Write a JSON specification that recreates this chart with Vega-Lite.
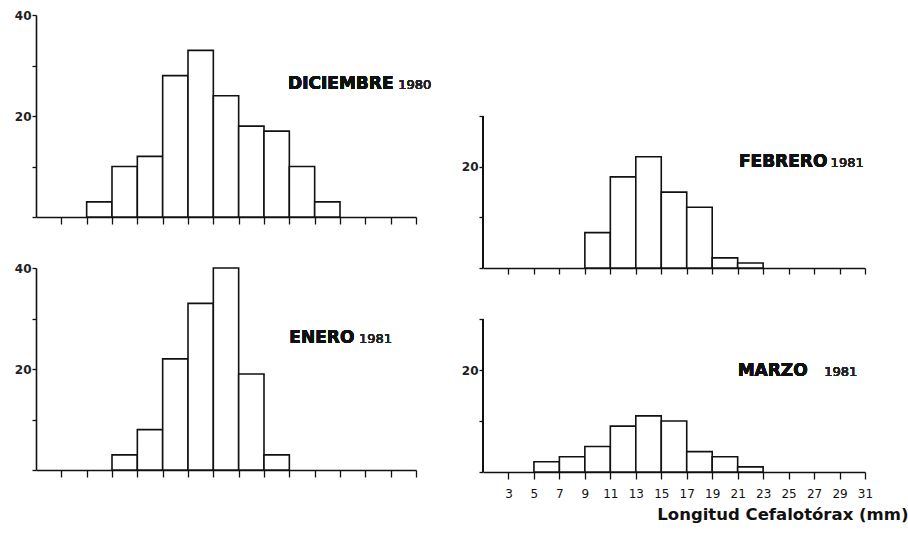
{
  "$schema": "https://vega.github.io/schema/vega-lite/v6.json",
  "background": "white",
  "padding": {"left": 14, "top": 9, "right": 0, "bottom": 0},
  "config": {
    "view": {"stroke": null},
    "axis": {
      "domainColor": "#111", "domainWidth": 1.6,
      "tickColor": "#111", "tickWidth": 1.3,
      "labelFont": "DejaVu Sans", "labelFontSize": 11, "labelFontWeight": "bold", "labelColor": "#222",
      "labelOverlap": false, "grid": false, "titleFont": "DejaVu Sans"
    }
  },
  "datasets": {
    "hist": [
      {"month": "DICIEMBRE", "lo": 5, "hi": 7, "n": 3},
      {"month": "DICIEMBRE", "lo": 7, "hi": 9, "n": 10},
      {"month": "DICIEMBRE", "lo": 9, "hi": 11, "n": 12},
      {"month": "DICIEMBRE", "lo": 11, "hi": 13, "n": 28},
      {"month": "DICIEMBRE", "lo": 13, "hi": 15, "n": 33},
      {"month": "DICIEMBRE", "lo": 15, "hi": 17, "n": 24},
      {"month": "DICIEMBRE", "lo": 17, "hi": 19, "n": 18},
      {"month": "DICIEMBRE", "lo": 19, "hi": 21, "n": 17},
      {"month": "DICIEMBRE", "lo": 21, "hi": 23, "n": 10},
      {"month": "DICIEMBRE", "lo": 23, "hi": 25, "n": 3},
      {"month": "ENERO", "lo": 7, "hi": 9, "n": 3},
      {"month": "ENERO", "lo": 9, "hi": 11, "n": 8},
      {"month": "ENERO", "lo": 11, "hi": 13, "n": 22},
      {"month": "ENERO", "lo": 13, "hi": 15, "n": 33},
      {"month": "ENERO", "lo": 15, "hi": 17, "n": 40},
      {"month": "ENERO", "lo": 17, "hi": 19, "n": 19},
      {"month": "ENERO", "lo": 19, "hi": 21, "n": 3},
      {"month": "FEBRERO", "lo": 9, "hi": 11, "n": 7},
      {"month": "FEBRERO", "lo": 11, "hi": 13, "n": 18},
      {"month": "FEBRERO", "lo": 13, "hi": 15, "n": 22},
      {"month": "FEBRERO", "lo": 15, "hi": 17, "n": 15},
      {"month": "FEBRERO", "lo": 17, "hi": 19, "n": 12},
      {"month": "FEBRERO", "lo": 19, "hi": 21, "n": 2},
      {"month": "FEBRERO", "lo": 21, "hi": 23, "n": 1},
      {"month": "MARZO", "lo": 5, "hi": 7, "n": 2},
      {"month": "MARZO", "lo": 7, "hi": 9, "n": 3},
      {"month": "MARZO", "lo": 9, "hi": 11, "n": 5},
      {"month": "MARZO", "lo": 11, "hi": 13, "n": 9},
      {"month": "MARZO", "lo": 13, "hi": 15, "n": 11},
      {"month": "MARZO", "lo": 15, "hi": 17, "n": 10},
      {"month": "MARZO", "lo": 17, "hi": 19, "n": 4},
      {"month": "MARZO", "lo": 19, "hi": 21, "n": 3},
      {"month": "MARZO", "lo": 21, "hi": 23, "n": 1}
    ]
  },
  "bounds": "flush",
  "columns": 2,
  "spacing": {"row": 0, "column": 67},
  "concat": [
    {
      "width": 380, "height": 202,
      "data": {"name": "hist"},
      "transform": [{"filter": "datum.month === 'DICIEMBRE'"}],
      "layer": [
        {
          "mark": {"type": "rect", "fill": "white", "stroke": "#111", "strokeWidth": 1.6},
          "encoding": {
            "x": {"field": "lo", "type": "quantitative", "scale": {"domain": [1, 31], "nice": false, "zero": false},
                  "axis": {"title": null, "values": [3,5,7,9,11,13,15,17,19,21,23,25,27,29,31], "tickCount": 30, "labels": false, "tickSize": 7}},
            "x2": {"field": "hi"},
            "y": {"field": "n", "type": "quantitative", "scale": {"domain": [0, 40], "nice": false},
                  "axis": {"title": null, "values": [0,10,20,30,40], "tickSize": 4, "labelPadding": 1, "labelFontSize": 12,
                           "labelExpr": "datum.value == 20 || datum.value == 40 ? datum.label : ''"}},
            "y2": {"datum": 0}
          }
        },
        {
          "mark": {"type": "text", "font": "DejaVu Sans", "fontWeight": "bold", "fontSize": 17, "align": "left", "baseline": "alphabetic", "color": "#111"},
          "encoding": {"x": {"datum": 20.9}, "y": {"datum": 25.3}, "text": {"value": "DICIEMBRE"}}
        },
        {
          "mark": {"type": "text", "font": "DejaVu Sans", "fontSize": 13, "align": "left", "baseline": "alphabetic", "color": "#222"},
          "encoding": {"x": {"datum": 29.6}, "y": {"datum": 25.3}, "text": {"value": "1980"}}
        }
      ]
    },
    {
      "width": 382, "height": 253,
      "data": {"name": "hist"},
      "transform": [{"filter": "datum.month === 'FEBRERO'"}],
      "layer": [
        {
          "mark": {"type": "rect", "fill": "white", "stroke": "#111", "strokeWidth": 1.6},
          "encoding": {
            "x": {"field": "lo", "type": "quantitative", "scale": {"domain": [1, 31], "nice": false, "zero": false},
                  "axis": {"title": null, "values": [3,5,7,9,11,13,15,17,19,21,23,25,27,29,31], "tickCount": 30, "labels": false, "tickSize": 6}},
            "x2": {"field": "hi"},
            "y": {"field": "n", "type": "quantitative", "scale": {"domain": [0, 50], "nice": false},
                  "axis": {"title": null, "domain": false, "values": [0,10,20,30], "tickSize": 4, "labelPadding": 1, "labelFontSize": 12,
                           "labelExpr": "datum.value == 20 ? datum.label : ''"}},
            "y2": {"datum": 0}
          }
        },
        {
          "mark": {"type": "rule", "stroke": "#111", "strokeWidth": 1.6},
          "encoding": {"x": {"datum": 1}, "y": {"datum": 0}, "y2": {"datum": 30}}
        },
        {
          "mark": {"type": "text", "font": "DejaVu Sans", "fontWeight": "bold", "fontSize": 17, "align": "left", "baseline": "alphabetic", "color": "#111"},
          "encoding": {"x": {"datum": 21.1}, "y": {"datum": 20.0}, "text": {"value": "FEBRERO"}}
        },
        {
          "mark": {"type": "text", "font": "DejaVu Sans", "fontSize": 13, "align": "left", "baseline": "alphabetic", "color": "#222"},
          "encoding": {"x": {"datum": 28.3}, "y": {"datum": 20.0}, "text": {"value": "1981"}}
        }
      ]
    },
    {
      "width": 380, "height": 202,
      "data": {"name": "hist"},
      "transform": [{"filter": "datum.month === 'ENERO'"}],
      "layer": [
        {
          "mark": {"type": "rect", "fill": "white", "stroke": "#111", "strokeWidth": 1.6},
          "encoding": {
            "x": {"field": "lo", "type": "quantitative", "scale": {"domain": [1, 31], "nice": false, "zero": false},
                  "axis": {"title": null, "values": [3,5,7,9,11,13,15,17,19,21,23,25,27,29,31], "tickCount": 30, "labels": false, "tickSize": 7}},
            "x2": {"field": "hi"},
            "y": {"field": "n", "type": "quantitative", "scale": {"domain": [0, 40], "nice": false},
                  "axis": {"title": null, "values": [0,10,20,30,40], "tickSize": 4, "labelPadding": 1, "labelFontSize": 12,
                           "labelExpr": "datum.value == 20 || datum.value == 40 ? datum.label : ''"}},
            "y2": {"datum": 0}
          }
        },
        {
          "mark": {"type": "text", "font": "DejaVu Sans", "fontWeight": "bold", "fontSize": 17, "align": "left", "baseline": "alphabetic", "color": "#111"},
          "encoding": {"x": {"datum": 21.0}, "y": {"datum": 25.1}, "text": {"value": "ENERO"}}
        },
        {
          "mark": {"type": "text", "font": "DejaVu Sans", "fontSize": 13, "align": "left", "baseline": "alphabetic", "color": "#222"},
          "encoding": {"x": {"datum": 26.5}, "y": {"datum": 25.1}, "text": {"value": "1981"}}
        }
      ]
    },
    {
      "width": 382, "height": 204,
      "data": {"name": "hist"},
      "transform": [{"filter": "datum.month === 'MARZO'"}],
      "layer": [
        {
          "mark": {"type": "rect", "fill": "white", "stroke": "#111", "strokeWidth": 1.6},
          "encoding": {
            "x": {"field": "lo", "type": "quantitative", "scale": {"domain": [1, 31], "nice": false, "zero": false},
                  "axis": {"title": "Longitud Cefalotórax (mm)", "values": [3,5,7,9,11,13,15,17,19,21,23,25,27,29,31], "tickCount": 30, "tickSize": 7,
                           "labelOverlap": false, "labelFlush": false,
                           "labelFontSize": 12, "labelFontWeight": "normal", "labelColor": "#111", "labelPadding": 9,
                           "titleFontSize": 16.5, "titleFontWeight": "bold", "titleColor": "#111",
                           "titleAnchor": "end", "titleAlign": "right", "titleX": 425, "titlePadding": 7}},
            "x2": {"field": "hi"},
            "y": {"field": "n", "type": "quantitative", "scale": {"domain": [0, 40], "nice": false},
                  "axis": {"title": null, "domain": false, "values": [0,10,20,30], "tickSize": 4, "labelPadding": 1, "labelFontSize": 12,
                           "labelExpr": "datum.value == 20 ? datum.label : ''"}},
            "y2": {"datum": 0}
          }
        },
        {
          "mark": {"type": "rule", "stroke": "#111", "strokeWidth": 1.6},
          "encoding": {"x": {"datum": 1}, "y": {"datum": 0}, "y2": {"datum": 30}}
        },
        {
          "mark": {"type": "text", "font": "DejaVu Sans", "fontWeight": "bold", "fontSize": 17, "align": "left", "baseline": "alphabetic", "color": "#111"},
          "encoding": {"x": {"datum": 21.0}, "y": {"datum": 18.8}, "text": {"value": "MARZO"}}
        },
        {
          "mark": {"type": "text", "font": "DejaVu Sans", "fontSize": 13, "align": "left", "baseline": "alphabetic", "color": "#222"},
          "encoding": {"x": {"datum": 27.8}, "y": {"datum": 18.8}, "text": {"value": "1981"}}
        }
      ]
    }
  ]
}
